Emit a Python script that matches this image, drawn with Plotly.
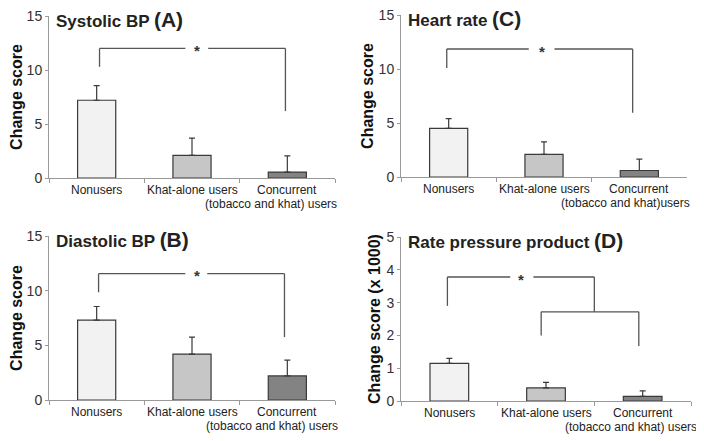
import plotly.graph_objects as go

categories = ["Nonusers", "Khat-alone users", "Concurrent"]
label_line1 = ["Nonusers", "Khat-alone users", "Concurrent"]
label_line2 = "(tobacco and khat) users"
label_line2_c = "(tobacco and khat)users"

systolic = [7.2, 2.1, 0.55]
systolic_err = [1.35, 1.6, 1.5]
diastolic = [7.3, 4.2, 2.2]
diastolic_err = [1.25, 1.55, 1.45]
heart_rate = [4.5, 2.1, 0.6]
heart_rate_err = [0.9, 1.15, 1.05]
rpp = [1.15, 0.40, 0.14]
rpp_err = [0.15, 0.17, 0.17]

bar_colors = ["#f2f2f2", "#c6c6c6", "#838383"]
FONT = "Liberation Sans, Arial, sans-serif"

# page body has an 8px margin: figure is placed at (8, 8)
W, H, OFF = 696, 433, 8
def px(x):
    return (x - OFF) / W
def py(y):
    return 1 - (y - OFF) / H

fig = go.Figure()

panels = [
    ("A", systolic, systolic_err, "x", "y", [px(49), px(335)], [py(178), py(16)], 15, 5, label_line2, 1.83, "Change score", "Systolic BP"),
    ("C", heart_rate, heart_rate_err, "x2", "y2", [px(401), px(687)], [py(177), py(15)], 15, 5, label_line2_c, 1.86, "Change score", "Heart rate"),
    ("B", diastolic, diastolic_err, "x3", "y3", [px(49), px(335)], [py(400), py(236)], 15, 5, label_line2, 1.84, "Change score", "Diastolic BP"),
    ("D", rpp, rpp_err, "x4", "y4", [px(401), px(691)], [py(401), py(237)], 5, 1, label_line2, 1.88, "Change score (x 1000)", "Rate pressure product"),
]

layout_updates = {}
for name, vals, errs, xa, ya, dx, dy, ymax, dt, line2, l2x, ytitle, title in panels:
    fig.add_trace(go.Bar(
        x=categories, y=vals, xaxis=xa, yaxis=ya, width=0.4,
        marker=dict(color=bar_colors, line=dict(color="#3a3a3a", width=1.2)),
        error_y=dict(type="data", array=errs, arrayminus=[0, 0, 0], symmetric=False,
                     color="#3a3a3a", thickness=1.2, width=3),
        showlegend=False,
    ))
    xkey = "xaxis" if xa == "x" else "xaxis" + xa[1:]
    ykey = "yaxis" if ya == "y" else "yaxis" + ya[1:]
    layout_updates[xkey] = dict(
        domain=dx, anchor=ya, type="category", range=[-0.5, 2.5],
        tickvals=categories, tickson="boundaries", showticklabels=False,
        ticks="outside", ticklen=4, tickcolor="#999", showline=True,
        linecolor="#999", linewidth=1, showgrid=False, zeroline=False,
        automargin=False,
    )
    layout_updates[ykey] = dict(
        domain=dy, anchor=xa, range=[0, ymax], dtick=dt, ticks="outside",
        ticklen=3, tickcolor="#999", showline=True, linecolor="#999",
        linewidth=1, showgrid=False, zeroline=False, automargin=False,
        ticklabeloverflow="allow",
        tickfont=dict(family=FONT, size=14, color="#333"),
        title=dict(text="<b>" + ytitle + "</b>", standoff=1,
                   font=dict(family=FONT, size=16, color="#111")),
    )
    fig.add_annotation(
        xref=xa + " domain", yref=ya + " domain", x=0.018, y=1.06,
        xanchor="left", yanchor="top", showarrow=False,
        text="<b>" + title + " <span style='font-size:21px'>(" + name + ")</span></b>",
        font=dict(family=FONT, size=17, color="#222"),
    )
    # category labels under the axis
    for i, lab in enumerate(label_line1):
        fig.add_annotation(
            xref=xa, yref=ya + " domain", x=i, y=0, yanchor="top", yshift=-4,
            showarrow=False, borderpad=0, text=lab,
            font=dict(family=FONT, size=12, color="#222"),
        )
    fig.add_annotation(
        xref=xa, yref=ya + " domain", x=l2x, y=0, yanchor="top", yshift=-18,
        showarrow=False, borderpad=0, text=line2,
        font=dict(family=FONT, size=12, color="#222"),
    )

fig.update_layout(**layout_updates)

line_style = dict(color="#555", width=1.3)

def bracket(xa, ya, x0, x1, ytop, yl, yr, gap=None, star=None):
    fig.add_shape(type="line", xref=xa, yref=ya, x0=x0, x1=x0, y0=yl, y1=ytop, line=line_style)
    fig.add_shape(type="line", xref=xa, yref=ya, x0=x1, x1=x1, y0=yr, y1=ytop, line=line_style)
    if gap:
        fig.add_shape(type="line", xref=xa, yref=ya, x0=x0, x1=gap[0], y0=ytop, y1=ytop, line=line_style)
        fig.add_shape(type="line", xref=xa, yref=ya, x0=gap[1], x1=x1, y0=ytop, y1=ytop, line=line_style)
    else:
        fig.add_shape(type="line", xref=xa, yref=ya, x0=x0, x1=x1, y0=ytop, y1=ytop, line=line_style)
    if star is not None:
        fig.add_annotation(xref=xa, yref=ya, x=star, y=ytop, text="<b>*</b>",
                           showarrow=False, yanchor="middle", yshift=-2,
                           font=dict(family=FONT, size=15, color="#333"))

bracket("x", "y", 0.03, 1.98, 12.0, 10.3, 6.2, gap=(0.93, 1.17), star=1.05)
bracket("x2", "y2", -0.02, 1.93, 11.85, 10.1, 5.95, gap=(0.84, 1.11), star=0.98)
bracket("x3", "y3", 0.02, 1.97, 11.55, 9.85, 5.75, gap=(0.93, 1.16), star=1.05)
bracket("x4", "y4", -0.02, 1.5, 3.78, 2.9, 2.72, gap=(0.63, 0.87), star=0.745)
bracket("x4", "y4", 0.95, 1.96, 2.72, 2.0, 1.68)

fig.update_layout(
    width=W, height=H, margin=dict(l=0, r=0, t=0, b=0),
    plot_bgcolor="white", paper_bgcolor="white",
    font=dict(family=FONT), bargap=0.6,
)

fig.write_html("out.html")
